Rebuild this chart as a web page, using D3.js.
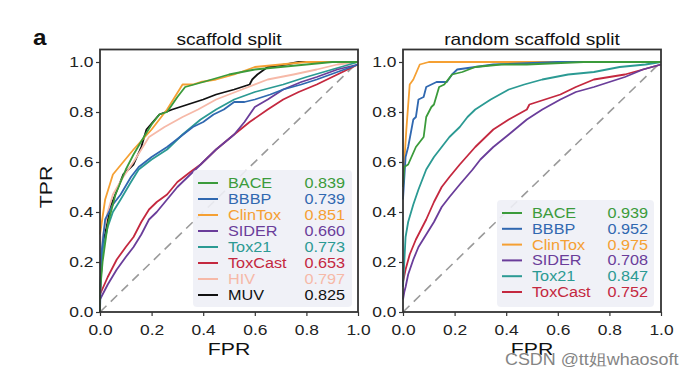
<!DOCTYPE html>
<html>
<head>
<meta charset="utf-8">
<script src="https://cdn.jsdelivr.net/npm/d3@7"></script>
<style>
  body { margin: 0; background: #fff; }
  svg { display: block; font-family: "Liberation Sans", Arial, sans-serif; }
</style>
</head>
<body>
<svg id="chart" width="698" height="378"></svg>
<script>
// dataset names + AUC values from the legends
var names = ["BACE", "BBBP", "ClinTox", "SIDER", "Tox21", "ToxCast", "HIV", "MUV"];
var colors = ["#3b9b3b", "#3068b0", "#f5a033", "#6a3d9a", "#2b9a93", "#c4283f", "#f6b9a8", "#111111"];
var aucScaffold = ["0.839", "0.739", "0.851", "0.660", "0.773", "0.653", "0.797", "0.825"];
var aucRandom = ["0.939", "0.952", "0.975", "0.708", "0.847", "0.752"];
var ticks = [0, 0.2, 0.4, 0.6, 0.8, 1.0];

// ROC points [fpr, tpr], scaffold split
var scBACE = [[0,0],[0,0.08],[0.01,0.2],[0.03,0.35],[0.06,0.47],[0.1,0.57],[0.13,0.63],[0.17,0.7],[0.2,0.75],[0.23,0.79],[0.26,0.8],[0.3,0.86],[0.33,0.9],[0.4,0.92],[0.5,0.95],[0.6,0.97],[0.7,0.98],[0.8,0.99],[0.9,1],[1,1]];
var scBBBP = [[0,0],[0.005,0.23],[0.02,0.37],[0.05,0.43],[0.08,0.47],[0.12,0.54],[0.15,0.58],[0.2,0.62],[0.26,0.66],[0.31,0.7],[0.36,0.74],[0.4,0.76],[0.44,0.79],[0.48,0.81],[0.52,0.84],[0.56,0.84],[0.6,0.85],[0.66,0.87],[0.71,0.89],[0.78,0.91],[0.84,0.93],[0.92,0.96],[1,0.99]];
var scClinTox = [[0,0.31],[0.01,0.38],[0.02,0.45],[0.05,0.55],[0.09,0.6],[0.13,0.65],[0.2,0.73],[0.26,0.81],[0.29,0.86],[0.32,0.91],[0.36,0.91],[0.39,0.92],[0.45,0.93],[0.52,0.95],[0.6,0.98],[0.7,0.99],[0.8,1],[1,1]];
var scSIDER = [[0,0.05],[0.03,0.11],[0.065,0.17],[0.1,0.22],[0.13,0.26],[0.16,0.31],[0.19,0.37],[0.22,0.4],[0.26,0.45],[0.3,0.5],[0.35,0.55],[0.39,0.59],[0.45,0.65],[0.52,0.71],[0.56,0.76],[0.6,0.82],[0.65,0.85],[0.71,0.89],[0.78,0.92],[0.84,0.94],[0.92,0.97],[1,0.99]];
var scTox21 = [[0,0.09],[0.01,0.25],[0.03,0.34],[0.05,0.4],[0.08,0.45],[0.12,0.52],[0.15,0.57],[0.2,0.61],[0.26,0.65],[0.32,0.71],[0.39,0.77],[0.45,0.81],[0.52,0.85],[0.6,0.88],[0.71,0.91],[0.8,0.94],[0.9,0.97],[1,1]];
var scToxCast = [[0,0.07],[0.03,0.14],[0.065,0.21],[0.1,0.26],[0.13,0.3],[0.16,0.36],[0.19,0.41],[0.22,0.44],[0.26,0.47],[0.3,0.52],[0.35,0.56],[0.39,0.59],[0.45,0.65],[0.52,0.71],[0.58,0.76],[0.65,0.81],[0.71,0.85],[0.77,0.88],[0.84,0.91],[0.9,0.94],[1,0.99]];
var scHIV = [[0,0.07],[0.01,0.3],[0.03,0.4],[0.05,0.47],[0.09,0.54],[0.13,0.6],[0.19,0.7],[0.25,0.74],[0.32,0.78],[0.38,0.81],[0.45,0.85],[0.55,0.89],[0.65,0.93],[0.75,0.95],[0.84,0.97],[0.92,0.99],[1,1]];
var scMUV = [[0,0.02],[0,0.07],[0.01,0.26],[0.04,0.42],[0.09,0.55],[0.13,0.59],[0.16,0.66],[0.18,0.73],[0.23,0.79],[0.28,0.81],[0.34,0.83],[0.4,0.85],[0.45,0.87],[0.52,0.89],[0.58,0.91],[0.59,0.93],[0.61,0.95],[0.65,0.98],[0.72,0.99],[0.77,1],[1,1]];

// random scaffold split
var rsBACE = [[0,0.5],[0.005,0.58],[0.02,0.59],[0.05,0.66],[0.08,0.7],[0.09,0.78],[0.11,0.82],[0.12,0.83],[0.14,0.9],[0.16,0.91],[0.19,0.95],[0.23,0.96],[0.28,0.98],[0.38,0.99],[0.48,0.99],[0.7,1],[1,1]];
var rsBBBP = [[0,0.45],[0.01,0.62],[0.02,0.66],[0.04,0.77],[0.05,0.78],[0.06,0.85],[0.08,0.86],[0.09,0.9],[0.13,0.92],[0.17,0.92],[0.19,0.95],[0.21,0.97],[0.28,0.98],[0.35,0.99],[0.6,1],[1,1]];
var rsClinTox = [[0,0.5],[0.005,0.6],[0.013,0.73],[0.026,0.91],[0.04,0.93],[0.065,0.99],[0.1,1],[1,1]];
var rsSIDER = [[0,0.05],[0.005,0.08],[0.01,0.1],[0.02,0.15],[0.04,0.21],[0.06,0.26],[0.09,0.31],[0.12,0.36],[0.15,0.42],[0.18,0.46],[0.22,0.51],[0.27,0.57],[0.3,0.61],[0.35,0.66],[0.41,0.71],[0.48,0.77],[0.54,0.81],[0.61,0.85],[0.67,0.88],[0.74,0.9],[0.8,0.92],[0.86,0.94],[0.93,0.97],[1,0.99]];
var rsTox21 = [[0,0.1],[0.005,0.2],[0.01,0.3],[0.02,0.36],[0.04,0.43],[0.06,0.49],[0.09,0.57],[0.12,0.62],[0.15,0.66],[0.18,0.7],[0.22,0.74],[0.25,0.78],[0.28,0.81],[0.34,0.85],[0.41,0.89],[0.47,0.91],[0.54,0.93],[0.64,0.95],[0.74,0.96],[0.84,0.98],[0.94,0.99],[1,1]];
var rsToxCast = [[0,0.12],[0.01,0.17],[0.026,0.23],[0.05,0.29],[0.09,0.37],[0.12,0.44],[0.15,0.5],[0.18,0.54],[0.22,0.59],[0.28,0.66],[0.35,0.73],[0.41,0.77],[0.48,0.81],[0.49,0.83],[0.55,0.85],[0.61,0.87],[0.67,0.9],[0.74,0.93],[0.8,0.94],[0.86,0.95],[0.93,0.97],[1,0.99]];

var scaffoldCurves = [scBACE, scBBBP, scClinTox, scSIDER, scTox21, scToxCast, scHIV, scMUV];
var randomCurves = [rsBACE, rsBBBP, rsClinTox, rsSIDER, rsTox21, rsToxCast];

var svg = d3.select("#chart");

// little helper, text in the source figure is horizontally stretched
function label(g, x, y, txt, size, sx, opts) {
  opts = opts || {};
  var t = g.append("text")
    .attr("transform", "translate(" + x + "," + y + ")" + (opts.rotate ? " rotate(" + opts.rotate + ")" : "") + " scale(" + sx + ",1)")
    .attr("font-size", size)
    .attr("text-anchor", opts.anchor || "start")
    .attr("fill", opts.fill || "#111")
    .text(txt);
  if (opts.bold) t.attr("font-weight", "bold");
  return t;
}

function panel(left, title, curves, aucs, legendBox) {
  var x = d3.scaleLinear().domain([0, 1]).range([left, left + 258]);
  var y = d3.scaleLinear().domain([0, 1.05]).range([312, 49.5]);
  var g = svg.append("g");

  // diagonal
  g.append("line")
    .attr("x1", x(0)).attr("y1", y(0)).attr("x2", x(1)).attr("y2", y(1))
    .attr("stroke", "#9a9a9a").attr("stroke-width", 1.6)
    .attr("stroke-dasharray", "9,6");

  var line = d3.line()
    .x(function(d) { return x(d[0]); })
    .y(function(d) { return y(d[1]); });

  // draw in reverse so BACE ends on top like the original
  for (var i = curves.length - 1; i >= 0; i--) {
    g.append("path")
      .datum(curves[i])
      .attr("d", line)
      .attr("fill", "none")
      .attr("stroke", colors[i])
      .attr("stroke-width", 1.8)
      .attr("stroke-linejoin", "round");
  }

  // frame
  g.append("rect")
    .attr("x", x(0)).attr("y", y(1.05))
    .attr("width", x(1) - x(0)).attr("height", y(0) - y(1.05))
    .attr("fill", "none").attr("stroke", "#333").attr("stroke-width", 1.8);

  // axes
  var ya = g.append("g")
    .attr("transform", "translate(" + x(0) + ",0)")
    .call(d3.axisLeft(y).tickValues(ticks).tickFormat(d3.format(".1f")).tickSize(4).tickPadding(1.5));
  var xa = g.append("g")
    .attr("transform", "translate(0," + y(0) + ")")
    .call(d3.axisBottom(x).tickValues(ticks).tickFormat(d3.format(".1f")).tickSize(4).tickPadding(8.5));
  [ya, xa].forEach(function(a) {
    a.select(".domain").remove();
    a.selectAll("line").attr("stroke", "#333").attr("stroke-width", 1.2);
    a.selectAll("text")
      .attr("font-size", 14.5)
      .attr("font-family", "Liberation Sans, Arial, sans-serif")
      .attr("fill", "#222")
      .attr("transform", "scale(1.2,1)");
  });

  label(g, (x(0) + x(1)) / 2, 45, title, 16, 1.2, {anchor: "middle"});
  label(g, (x(0) + x(1)) / 2, 355, "FPR", 17, 1.25, {anchor: "middle"});

  // legend
  var lg = g.append("g");
  lg.append("rect")
    .attr("x", legendBox.x).attr("y", legendBox.y)
    .attr("width", legendBox.w).attr("height", legendBox.h)
    .attr("rx", 4).attr("fill", "#eef0f6").attr("fill-opacity", 0.9);
  aucs.forEach(function(v, i) {
    var cy = legendBox.first + i * legendBox.step;
    lg.append("line")
      .attr("x1", legendBox.x + 5).attr("x2", legendBox.x + 25)
      .attr("y1", cy).attr("y2", cy)
      .attr("stroke", colors[i]).attr("stroke-width", 2);
    label(lg, legendBox.x + 35, cy + 5, names[i], 14.5, 1.12, {fill: colors[i]});
    label(lg, legendBox.valX, cy + 5, v, 14.5, 1.12, {fill: colors[i], anchor: "end"});
  });
  return g;
}

panel(100, "scaffold split", scaffoldCurves, aucScaffold,
  {x: 193, y: 170, w: 159, h: 137, first: 183, step: 16, valX: 345});
panel(403, "random scaffold split", randomCurves, aucRandom,
  {x: 497, y: 200, w: 157, h: 107, first: 213, step: 15.8, valX: 648});

label(svg, 52, 187, "TPR", 17, 1.25, {anchor: "middle", rotate: -90});
label(svg, 33, 45, "a", 22, 1.1, {bold: true});
label(svg, 505, 365, "CSDN @tt姐whaosoft", 16, 1.12, {fill: "#858585"})
  .attr("stroke", "#fff").attr("stroke-width", 0.4).attr("paint-order", "stroke");
</script>
</body>
</html>
